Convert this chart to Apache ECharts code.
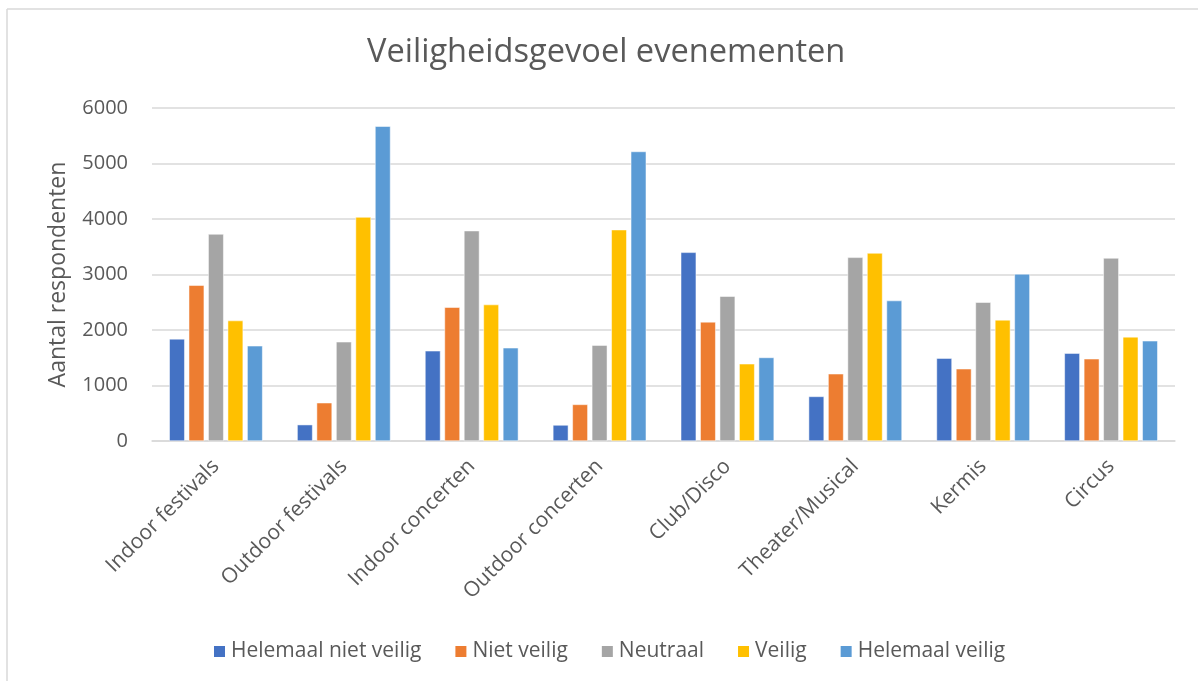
<!DOCTYPE html>
<html><head><meta charset="utf-8">
<script src="https://cdn.jsdelivr.net/npm/echarts@6/dist/echarts.min.js"></script>
<style>html,body{margin:0;padding:0;background:#fff}#c{width:1198px;height:681px}</style>
</head><body><div id="c"></div>
<script>
const categories = ["Indoor festivals","Outdoor festivals","Indoor concerten","Outdoor concerten","Club/Disco","Theater/Musical","Kermis","Circus"];
const helemaalNietVeilig = [1840, 294, 1625, 288, 3399, 803, 1493, 1583];
const nietVeilig = [2806, 689, 2410, 659, 2146, 1211, 1301, 1481];
const neutraal = [3729, 1787, 3789, 1727, 2608, 3309, 2500, 3297];
const veilig = [2170, 4035, 2458, 3807, 1391, 3387, 2182, 1876];
const helemaalVeilig = [1715, 5671, 1679, 5216, 1505, 2530, 3010, 1805];
const seriesNames = ["Helemaal niet veilig","Niet veilig","Neutraal","Veilig","Helemaal veilig"];
const yTicks = [0, 1000, 2000, 3000, 4000, 5000, 6000];
const colors = ["#4472C4","#ED7D31","#A5A5A5","#FFC000","#5B9BD5"];
const txt = "#595959";
const font = "Open Sans";
const chart = echarts.init(document.getElementById('c'), null, {renderer:'canvas'});
const dataSets = [helemaalNietVeilig, nietVeilig, neutraal, veilig, helemaalVeilig];
chart.setOption({
  animation:false,
  color: colors,
  textStyle:{fontFamily:font},
  title:{text:"Veiligheidsgevoel evenementen", left:362, top:31,
    textStyle:{fontFamily:font, fontSize:32.6, fontWeight:'normal', color:txt}},
  graphic:[
    {type:'line', shape:{x1:7,y1:9,x2:7,y2:681}, style:{stroke:'#d9d9d9', lineWidth:1.5}},
    {type:'line', shape:{x1:7,y1:9,x2:1198,y2:9}, style:{stroke:'#d9d9d9', lineWidth:1.5}}
  ],
  legend:{top:636, left:207, itemWidth:13, itemHeight:13, itemGap:32, icon:'rect',
    data:seriesNames, textStyle:{fontFamily:font, fontSize:21, color:txt}},
  grid:{left:152, right:23, top:108, bottom:240, containLabel:false},
  xAxis:{type:'category', data:categories,
    axisLine:{lineStyle:{color:'#d9d9d9', width:1.5}},
    axisTick:{show:false},
    axisLabel:{rotate:45, interval:0, margin:22, fontSize:21, color:txt, fontFamily:font}},
  yAxis:{type:'value', min:yTicks[0], max:yTicks[yTicks.length-1], interval:1000,
    name:"Aantal respondenten", nameLocation:'middle', nameGap:82,
    nameTextStyle:{fontSize:23, color:txt, fontFamily:font},
    axisLabel:{fontSize:20, color:txt, fontFamily:font, margin:24, formatter:v=>String(v)},
    splitLine:{lineStyle:{color:'#d9d9d9', width:1.5}},
    axisLine:{show:false}, axisTick:{show:false}},
  series: seriesNames.map((n,i)=>({name:n, type:'bar', data:dataSets[i],
    barGap:'26%', barCategoryGap:'27%',
    itemStyle:{color:colors[i], borderColor:'#ffffff', borderWidth:0.5}}))
});
</script></body></html>
